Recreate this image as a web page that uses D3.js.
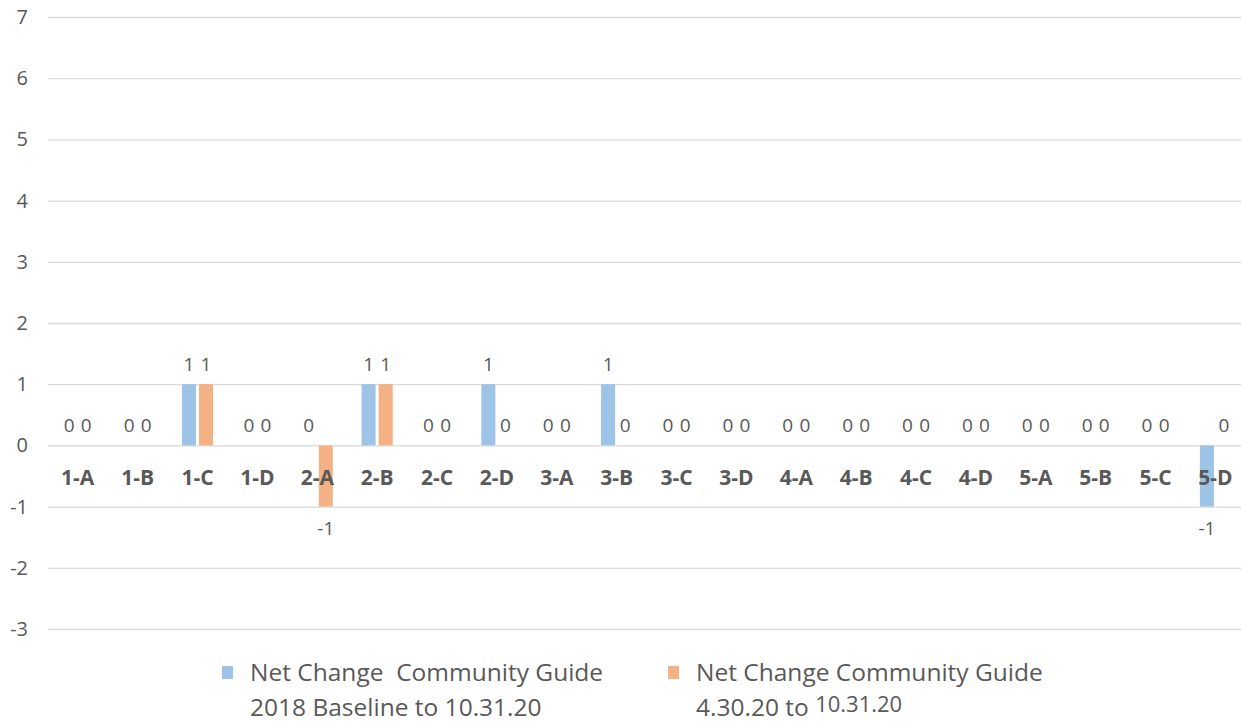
<!DOCTYPE html>
<html><head><meta charset="utf-8">
<script src="https://cdn.jsdelivr.net/npm/d3@7"></script>
<style>body{margin:0;background:#fff;}svg{display:block;}</style>
</head><body>
<svg id="c" width="1241" height="723"></svg>
<script>
const categories = ["1-A","1-B","1-C","1-D","2-A","2-B","2-C","2-D","3-A","3-B","3-C","3-D","4-A","4-B","4-C","4-D","5-A","5-B","5-C","5-D"];
const seriesLine1 = ["Net Change  Community Guide","Net Change Community Guide"];
const seriesLine2 = [["2018 Baseline to 10.31.20"],["4.30.20 to ","10.31.20"]];
const baselineValues = [0,0,1,0,0,1,0,1,0,1,0,0,0,0,0,0,0,0,0,-1];
const recentValues   = [0,0,1,0,-1,1,0,0,0,0,0,0,0,0,0,0,0,0,0,0];
const yTicks = [-3,-2,-1,0,1,2,3,4,5,6,7];
const colors = ["#9DC3E6","#F4B183"];

const svg = d3.select("#c");
const font = "'Open Sans', sans-serif";
const gray = "#595959";
const y = d3.scaleLinear().domain([-3,7]).range([629,17]);
const x = d3.scaleBand().domain(categories).range([47.8,1245.4]).paddingInner(0.48).paddingOuter(0.24);
const x1 = d3.scaleBand().domain([0,1]).range([0,x.bandwidth()]).paddingInner(0.18);

// grid
const yAxis = d3.axisLeft(y).tickValues(yTicks).tickSize(-(1241-48)).tickFormat(d=>String(d));
const ga = svg.append("g").attr("transform","translate(48,0)").call(yAxis);
ga.select(".domain").remove();
ga.selectAll(".tick line").attr("stroke","#d9d9d9").attr("stroke-width",1.3);
ga.selectAll(".tick text").attr("x",-20).attr("fill",gray).style("font-family",font).style("font-size","20px");

const data = [baselineValues, recentValues];
data.forEach((vals,si)=>{
  const g = svg.append("g");
  g.selectAll("rect").data(vals).enter().append("rect")
    .attr("x",(d,i)=>x(categories[i])+x1(si))
    .attr("width",x1.bandwidth())
    .attr("y",d=>y(Math.max(0,d)))
    .attr("height",d=>Math.abs(y(d)-y(0)))
    .attr("fill",colors[si]);
  g.selectAll("text").data(vals).enter().append("text")
    .attr("x",(d,i)=>x(categories[i])+x1(si)+x1.bandwidth()/2)
    .attr("y",d=> d<0 ? y(d)+22 : y(d)-20)
    .attr("dy","0.35em")
    .attr("text-anchor","middle")
    .attr("fill",gray).style("font-family",font).style("font-size","19px")
    .text(d=>String(d));
});

// category labels
svg.append("g").selectAll("text").data(categories).enter().append("text")
  .attr("x",d=>x(d)+x.bandwidth()/2)
  .attr("y",y(0)+32)
  .attr("dy","0.35em")
  .attr("text-anchor","middle")
  .attr("fill",gray).style("font-family",font).style("font-size","21px").style("font-weight","bold")
  .text(d=>d);

// legend
const legX = [222, 668];
seriesLine1.forEach((n,i)=>{
  svg.append("rect").attr("x",legX[i]).attr("y",666).attr("width",11).attr("height",13).attr("fill",colors[i]);
  svg.append("text").attr("x",legX[i]+28).attr("y",681).style("white-space","pre")
    .attr("fill",gray).style("font-family",font).style("font-size","24.5px").text(n);
  const t = svg.append("text").attr("x",legX[i]+28).attr("y",716).style("white-space","pre")
    .attr("fill",gray).style("font-family",font).style("font-size","24.5px");
  seriesLine2[i].forEach((s,j)=>{
    const sp = t.append("tspan").text(s);
    if(j>0) sp.attr("dy",-4).style("font-size","22px");
  });
});
</script>
</body></html>
